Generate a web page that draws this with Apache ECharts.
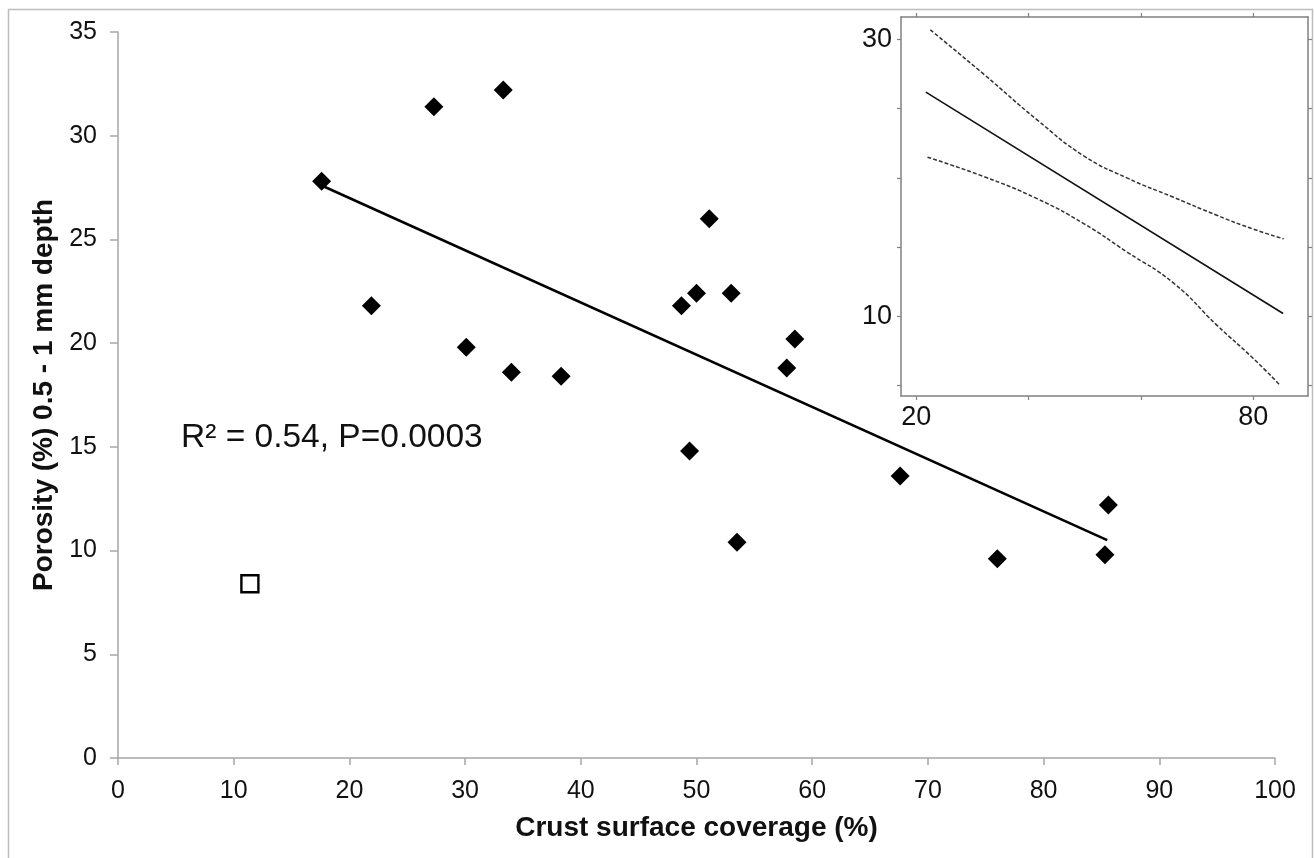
<!DOCTYPE html>
<html>
<head>
<meta charset="utf-8">
<script src="https://cdn.jsdelivr.net/npm/echarts@6/dist/echarts.min.js"></script>
<style>
  html, body { margin: 0; padding: 0; background: #fff; }
  #chart { width: 1314px; height: 858px; }
</style>
</head>
<body>
<div id="chart"></div>
<script>
// Crust surface coverage (%) vs porosity (%) at 0.5 - 1 mm depth
const coverage = [17.6, 21.9, 27.3, 33.3, 30.1, 34.0, 38.3, 48.7, 50.0, 51.1, 53.0, 58.5, 57.8, 49.4, 53.5, 67.6, 76.0, 85.3, 85.6];
const porosity = [27.8, 21.8, 31.4, 32.2, 19.8, 18.6, 18.4, 21.8, 22.4, 26.0, 22.4, 20.2, 18.8, 14.8, 10.4, 13.6, 9.6, 9.8, 12.2];

// excluded sample (open square)
const outlierCoverage = [11.4];
const outlierPorosity = [8.4];

// fitted regression line end points
const fitCoverage = [17.6, 85.5];
const fitPorosity = [27.6, 10.5];

// main axis ticks
const xTicks = [0, 10, 20, 30, 40, 50, 60, 70, 80, 90, 100];
const yTicks = [0, 5, 10, 15, 20, 25, 30, 35];

// inset: fit with confidence band
const insetFitCoverage = [21.7, 85.3];
const insetFitPorosity = [26.2, 10.2];
const upperCoverage = [22.5, 32.0, 41.5, 49.8, 57.5, 65.8, 73.5, 80.0, 85.4];
const upperPorosity = [30.7, 27.5, 24.2, 21.6, 20.0, 18.6, 17.3, 16.3, 15.6];
const lowerCoverage = [22.0, 32.0, 41.5, 49.8, 57.5, 65.8, 73.5, 80.0, 84.8];
const lowerPorosity = [21.5, 20.1, 18.5, 16.7, 14.65, 12.4, 9.36, 6.95, 5.0];

// inset axis ticks and labels
const insetXTicks = [20, 40, 60, 80];
const insetXLabels = [20, 80];
const insetYTicks = [5, 10, 15, 20, 25, 30];
const insetYLabels = [10, 30];

const pairs = (xs, ys) => xs.map((x, i) => [x, ys[i]]);

const FONT = 'Liberation Sans, Arial, sans-serif';
const mainAxisColor = '#a6a6a6';
const insetAxisColor = '#808080';

const insetX = { min: 17.28, max: 89.73 };
const insetY = { min: 4.24, max: 31.63 };

const chart = echarts.init(document.getElementById('chart'), null, { renderer: 'canvas' });

function insetXAxis(position, withLabels) {
  return {
    type: 'value', gridIndex: 1, position: position,
    min: insetX.min, max: insetX.max,
    axisLine: { show: true, onZero: false, lineStyle: { color: insetAxisColor, width: 1.5 } },
    axisTick: { show: true, inside: false, length: 4, customValues: insetXTicks, lineStyle: { color: insetAxisColor, width: 1.2 } },
    axisLabel: withLabels ? { show: true, customValues: insetXLabels, margin: 8, color: '#111', fontSize: 27, fontFamily: FONT }
                          : { show: false },
    splitLine: { show: false }
  };
}
function insetYAxis(position, withLabels) {
  return {
    type: 'value', gridIndex: 1, position: position,
    min: insetY.min, max: insetY.max,
    axisLine: { show: true, onZero: false, lineStyle: { color: insetAxisColor, width: 1.5 } },
    axisTick: { show: true, inside: false, length: 4, customValues: insetYTicks, lineStyle: { color: insetAxisColor, width: 1.2 } },
    axisLabel: withLabels ? { show: true, customValues: insetYLabels, margin: 9, color: '#111', fontSize: 27, fontFamily: FONT }
                          : { show: false },
    splitLine: { show: false }
  };
}

const option = {
  animation: false,
  backgroundColor: '#ffffff',
  textStyle: { fontFamily: FONT },
  graphic: [
    {
      type: 'rect', silent: true, z: -10,
      shape: { x: 8.5, y: 9.5, width: 1304, height: 870 },
      style: { fill: 'none', stroke: '#bdbdbd', lineWidth: 1.5 }
    },
    {
      type: 'text', left: 181, top: 421, z: 10,
      style: { text: 'R\u00B2 = 0.54, P=0.0003', font: '33.5px ' + FONT, fill: '#111' }
    }
  ],
  grid: [
    { left: 118, right: 39, top: 32, bottom: 100, containLabel: false },
    { left: 901, right: 6, top: 17, bottom: 462, containLabel: false, show: true, backgroundColor: '#fff', borderWidth: 0 }
  ],
  xAxis: [
    {
      type: 'value', gridIndex: 0, min: 0, max: 100, interval: 10,
      name: 'Crust surface coverage (%)', nameLocation: 'middle', nameGap: 56,
      nameTextStyle: { fontSize: 28, fontWeight: 'bold', color: '#111', fontFamily: FONT },
      axisLine: { show: true, onZero: false, lineStyle: { color: mainAxisColor, width: 1.5 } },
      axisTick: { show: true, inside: false, length: 7, lineStyle: { color: mainAxisColor, width: 1.5 } },
      axisLabel: { margin: 21, color: '#111', fontSize: 25, fontFamily: FONT,
                   formatter: v => xTicks.includes(v) ? String(v) : '' },
      splitLine: { show: false }
    },
    insetXAxis('bottom', true),
    insetXAxis('top', false)
  ],
  yAxis: [
    {
      type: 'value', gridIndex: 0, min: 0, max: 35, interval: 5,
      name: 'Porosity (%) 0.5 - 1 mm depth', nameLocation: 'middle', nameGap: 55,
      nameTextStyle: { fontSize: 28, fontWeight: 'bold', color: '#111', fontFamily: FONT },
      axisLine: { show: true, onZero: false, lineStyle: { color: mainAxisColor, width: 1.5 } },
      axisTick: { show: true, inside: false, length: 8, lineStyle: { color: mainAxisColor, width: 1.5 } },
      axisLabel: { margin: 21, color: '#111', fontSize: 25, fontFamily: FONT,
                   formatter: v => yTicks.includes(v) ? String(v) : '' },
      splitLine: { show: false }
    },
    insetYAxis('left', true),
    insetYAxis('right', false)
  ],
  series: [
    {
      name: 'fit', type: 'line', xAxisIndex: 0, yAxisIndex: 0, z: 2,
      data: pairs(fitCoverage, fitPorosity), symbol: 'none',
      lineStyle: { color: '#000', width: 2.5 }
    },
    {
      name: 'samples', type: 'scatter', xAxisIndex: 0, yAxisIndex: 0, z: 3,
      data: pairs(coverage, porosity), symbol: 'diamond', symbolSize: 19,
      itemStyle: { color: '#000', opacity: 1 }
    },
    {
      name: 'excluded', type: 'scatter', xAxisIndex: 0, yAxisIndex: 0, z: 3,
      data: pairs(outlierCoverage, outlierPorosity), symbol: 'rect', symbolSize: 17,
      itemStyle: { color: '#fff', borderColor: '#000', borderWidth: 2.4, opacity: 1 }
    },
    {
      name: 'inset fit', type: 'line', xAxisIndex: 1, yAxisIndex: 1, z: 4,
      data: pairs(insetFitCoverage, insetFitPorosity), symbol: 'none',
      lineStyle: { color: '#111', width: 1.6 }
    },
    {
      name: 'upper', type: 'line', xAxisIndex: 1, yAxisIndex: 1, z: 4, smooth: 0.5,
      data: pairs(upperCoverage, upperPorosity), symbol: 'none',
      lineStyle: { color: '#333', width: 1.5, type: [4, 2] }
    },
    {
      name: 'lower', type: 'line', xAxisIndex: 1, yAxisIndex: 1, z: 4, smooth: 0.5,
      data: pairs(lowerCoverage, lowerPorosity), symbol: 'none',
      lineStyle: { color: '#333', width: 1.5, type: [4, 2] }
    }
  ]
};

chart.setOption(option);
</script>
</body>
</html>
